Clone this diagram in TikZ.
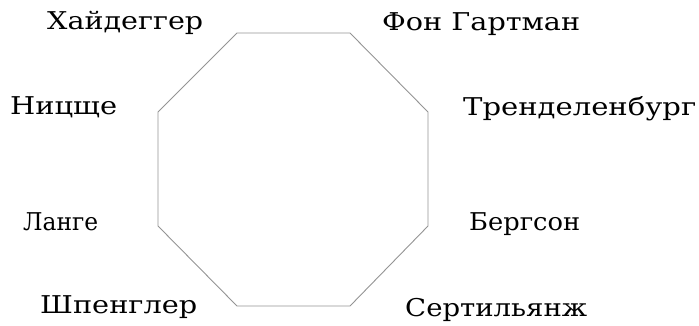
\documentclass[tikz,border=0pt]{standalone}
\usepackage{fontspec}
\setmainfont{DejaVu Serif}
\usepackage{graphicx}
\newcommand\fitw[2]{\resizebox{#1pt}{\height}{#2}}
\begin{document}
\begin{tikzpicture}[x=1pt,y=-1pt,
  edge/.style={draw=black!42, line width=0.9pt, line join=miter},
  lbl/.style={anchor=base west, inner sep=0pt, font=\fontsize{24.5}{28}\selectfont}]
\useasboundingbox (0,0) rectangle (699,325);
\coordinate (v1) at (237,33);
\coordinate (v2) at (350,33);
\coordinate (v3) at (428,112);
\coordinate (v4) at (428,226);
\coordinate (v5) at (350,306);
\coordinate (v6) at (237,306);
\coordinate (v7) at (158,226);
\coordinate (v8) at (158,112);
\draw[edge] (v1) -- (v2) -- (v3) -- (v4) -- (v5) -- (v6) -- (v7) -- (v8) -- cycle;
\node[lbl] (heid) at (47,29) {\fitw{156}{Хайдеггер}};
\node[lbl] (hart) at (382,30) {\fitw{198}{Фон Гартман}};
\node[lbl] (nietz) at (10,114) {\fitw{107}{Ницще}};
\node[lbl] (trend) at (463,115) {\fitw{233}{Тренделенбург}};
\node[lbl] (lange) at (23,230) {\fitw{75}{Ланге}};
\node[lbl] (berg) at (469,230) {\fitw{111}{Бергсон}};
\node[lbl] (speng) at (40,313) {\fitw{157}{Шпенглер}};
\node[lbl] (sert) at (405,316) {\fitw{182}{Сертильянж}};
\end{tikzpicture}
\end{document}
